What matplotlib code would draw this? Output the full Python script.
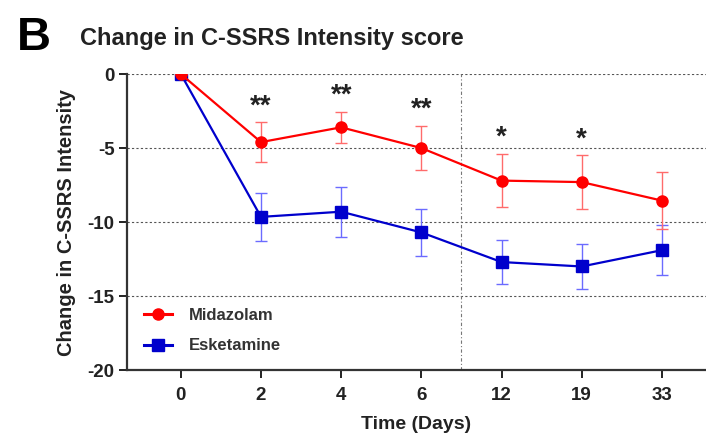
import matplotlib
matplotlib.use('Agg')
import matplotlib.pyplot as plt
from matplotlib.lines import Line2D
import numpy as np

plt.rcParams['font.family'] = ['Liberation Sans', 'DejaVu Sans']
plt.rcParams['axes.unicode_minus'] = False

days = ['0', '2', '4', '6', '12', '19', '33']

midazolam = [0.0, -4.6, -3.6, -5.0, -7.2, -7.3, -8.55]
midazolam_err = [0.0, 1.35, 1.05, 1.5, 1.8, 1.8, 1.95]

esketamine = [0.0, -9.65, -9.3, -10.7, -12.7, -13.0, -11.9]
esketamine_err = [0.0, 1.6, 1.7, 1.6, 1.5, 1.55, 1.7]

stars = ['', '**', '**', '**', '*', '*', '']

RED = '#ff0000'
BLUE = '#0000cc'
INK = '#222222'

fig = plt.figure(figsize=(7.06, 4.38), dpi=100)
ax = fig.add_axes([0.18, 0.155, 0.82, 0.676])

x = np.arange(len(days))

ax.errorbar(x, esketamine, yerr=esketamine_err, color=BLUE, marker='s',
            markersize=9, linewidth=1.6, capsize=4, elinewidth=1.0,
            ecolor='#6b6bff', capthick=1.0, zorder=3)
ax.errorbar(x, midazolam, yerr=midazolam_err, color=RED, marker='o',
            markersize=8, linewidth=1.6, capsize=4, elinewidth=1.0,
            ecolor='#ff6b6b', capthick=1.0, zorder=4)

# significance markers just above the midazolam error bars
for xi, m, e, s in zip(x, midazolam, midazolam_err, stars):
    if s:
        ax.text(xi, m + e + 0.2, s, ha='center', va='bottom',
                fontsize=20, fontweight='bold', color=INK)

for yv in [0, -5, -10, -15]:
    ax.axhline(yv, color='#555555', linestyle=(0, (2, 2)), linewidth=0.8, zorder=1)
ax.axvline(3.5, color='#777777', linestyle=(0, (3, 2, 1, 2)), linewidth=0.8, zorder=1)

ax.set_xlim(-0.67, 6.55)
ax.set_ylim(-20, 0)
ax.set_yticks([0, -5, -10, -15, -20])
ax.set_xticks(x)
ax.set_xticklabels(days)

for side in ['top', 'right']:
    ax.spines[side].set_visible(False)
for side in ['left', 'bottom']:
    ax.spines[side].set_linewidth(1.6)
    ax.spines[side].set_color('#333333')

ax.tick_params(axis='both', direction='out', length=6, width=1.4,
               labelsize=13.5, colors=INK, pad=3)
ax.tick_params(axis='x', pad=6)
for lab in ax.get_xticklabels() + ax.get_yticklabels():
    lab.set_fontweight('bold')

ax.set_xlabel('Time (Days)', fontsize=14, fontweight='bold', labelpad=9, color=INK)
ax.set_ylabel('Change in C-SSRS Intensity', fontsize=14.5, fontweight='bold',
              labelpad=8, color=INK)

handles = [
    Line2D([], [], color=RED, marker='o', markersize=8, linewidth=2.2),
    Line2D([], [], color=BLUE, marker='s', markersize=8, linewidth=2.2),
]
leg = ax.legend(handles, ['Midazolam', 'Esketamine'], loc='lower left',
                bbox_to_anchor=(0.0, 0.0), frameon=False, fontsize=12,
                handlelength=1.7, labelspacing=0.95, borderaxespad=0.6,
                handletextpad=1.0)
for t in leg.get_texts():
    t.set_fontweight('bold')
    t.set_color('#333333')

fig.text(0.024, 0.914, 'B', fontsize=34, fontweight='bold', va='center')
fig.text(0.113, 0.912, 'Change in C-SSRS Intensity score', fontsize=17,
         fontweight='bold', va='center', color=INK)

fig.savefig('out.png', dpi=100)
